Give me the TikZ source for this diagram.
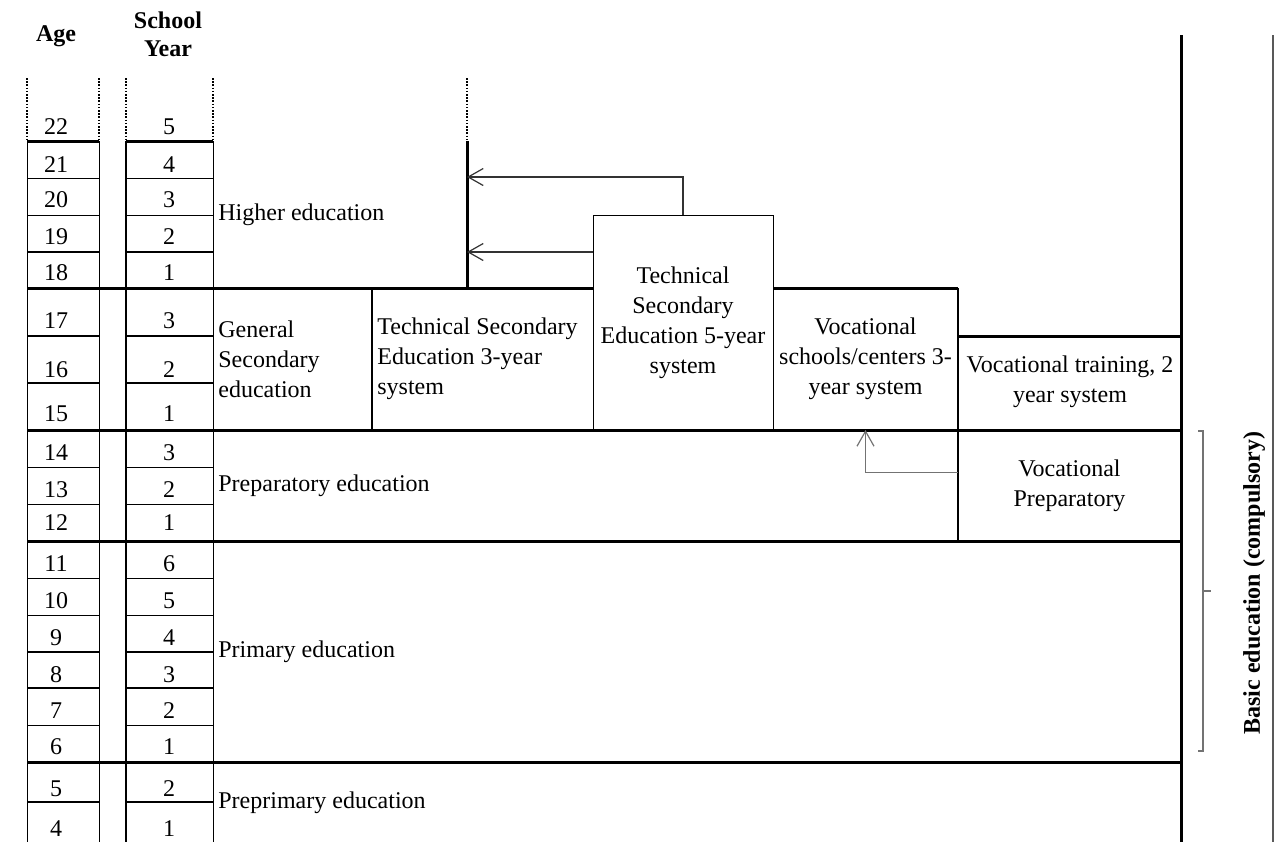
\documentclass[tikz,border=0pt]{standalone}
\usepackage{fontspec}
\setmainfont{Liberation Serif}
\usetikzlibrary{arrows.meta,positioning,calc}

\tikzset{
  tline/.style={line width=0.5pt},
  mline/.style={line width=1pt},
  bline/.style={line width=1.5pt},
  dotline/.style={line width=0.6pt, dash pattern=on 0.8pt off 0.8pt},
  numlbl/.style={font=\fontsize{12}{15}\selectfont, inner sep=0pt},
  headlbl/.style={font=\fontsize{12}{14}\selectfont\bfseries, inner sep=0pt},
  stagelbl/.style={font=\fontsize{12}{15}\selectfont, anchor=west, align=left, inner sep=0pt},
  boxlbl/.style={font=\fontsize{12}{15}\selectfont, align=center, inner sep=0pt, outer sep=0pt},
  flow/.style={-{Straight Barb[length=7.5pt, width=8.5pt]}, line width=0.6pt},
}

\begin{document}
\begin{tikzpicture}[x=0.5pt, y=-0.5pt]
  \useasboundingbox (0,0) rectangle (1274,842);

  % --- Header ---
  \node[headlbl] (hage) at (56,36) {Age};
  \node[headlbl, align=center] (hyear) at (168,34) {School\\Year};

  % --- Column frames ---
  \draw[dotline] (27,78) -- (27,141);
  \draw[dotline] (99,78) -- (99,141);
  \draw[dotline] (126,78) -- (126,141);
  \draw[dotline] (213,78) -- (213,141);
  \draw[dotline] (467,78) -- (467,141);
  \draw[tline] (27,141) -- (27,842);
  \draw[tline] (99,141) -- (99,842);
  \draw[mline] (126,141) -- (126,842);
  \draw[tline] (213,141) -- (213,842);
  \draw[bline] (1181,35) -- (1181,842);
  \draw[line width=0.6pt, black!65] (1273,35) -- (1273,842);

  % row lines (age and school year columns)
  \draw[bline] (27,141) -- (99,141) (126,141) -- (213,141);
  \draw[tline] (27,178) -- (99,178) (126,178) -- (213,178);
  \draw[tline] (27,215) -- (99,215) (126,215) -- (213,215);
  \draw[mline] (27,252) -- (99,252) (126,252) -- (213,252);
  \draw[mline] (27,336) -- (99,336) (126,336) -- (213,336);
  \draw[mline] (27,383) -- (99,383) (126,383) -- (213,383);
  \draw[tline] (27,467) -- (99,467) (126,467) -- (213,467);
  \draw[tline] (27,504) -- (99,504) (126,504) -- (213,504);
  \draw[tline] (27,578) -- (99,578) (126,578) -- (213,578);
  \draw[tline] (27,615) -- (99,615) (126,615) -- (213,615);
  \draw[mline] (27,652) -- (99,652) (126,652) -- (213,652);
  \draw[mline] (27,688) -- (99,688) (126,688) -- (213,688);
  \draw[tline] (27,725) -- (99,725) (126,725) -- (213,725);
  \draw[mline] (27,802) -- (99,802) (126,802) -- (213,802);

  % stage boundaries
  \draw[bline] (27,288) -- (593,288) (773,288) -- (958,288);
  \draw[bline] (958,336) -- (1181,336);
  \draw[bline] (27,430) -- (1181,430);
  \draw[bline] (27,541) -- (1181,541);
  \draw[bline] (27,762) -- (1181,762);
  \draw[bline] (467,141) -- (467,288);
  \draw[mline] (372,288) -- (372,430);
  \draw[mline] (958,288) -- (958,541);

  % --- Ages ---
  \node[numlbl] (a22) at (56,127) {22};
  \node[numlbl] (a21) at (56,165) {21};
  \node[numlbl] (a20) at (56,200) {20};
  \node[numlbl] (a19) at (56,237) {19};
  \node[numlbl] (a18) at (56,273) {18};
  \node[numlbl] (a17) at (56,321) {17};
  \node[numlbl] (a16) at (56,370) {16};
  \node[numlbl] (a15) at (56,414) {15};
  \node[numlbl] (a14) at (56,453) {14};
  \node[numlbl] (a13) at (56,490) {13};
  \node[numlbl] (a12) at (56,523) {12};
  \node[numlbl] (a11) at (56,564) {11};
  \node[numlbl] (a10) at (56,601) {10};
  \node[numlbl] (a9) at (56,638) {9};
  \node[numlbl] (a8) at (56,675) {8};
  \node[numlbl] (a7) at (56,711) {7};
  \node[numlbl] (a6) at (56,747) {6};
  \node[numlbl] (a5) at (56,789) {5};
  \node[numlbl] (a4) at (56,829) {4};

  % --- School years ---
  \node[numlbl] (y22) at (169,127) {5};
  \node[numlbl] (y21) at (169,165) {4};
  \node[numlbl] (y20) at (169,200) {3};
  \node[numlbl] (y19) at (169,237) {2};
  \node[numlbl] (y18) at (169,273) {1};
  \node[numlbl] (y17) at (169,321) {3};
  \node[numlbl] (y16) at (169,370) {2};
  \node[numlbl] (y15) at (169,414) {1};
  \node[numlbl] (y14) at (169,453) {3};
  \node[numlbl] (y13) at (169,490) {2};
  \node[numlbl] (y12) at (169,523) {1};
  \node[numlbl] (y11) at (169,564) {6};
  \node[numlbl] (y10) at (169,601) {5};
  \node[numlbl] (y9) at (169,638) {4};
  \node[numlbl] (y8) at (169,675) {3};
  \node[numlbl] (y7) at (169,711) {2};
  \node[numlbl] (y6) at (169,747) {1};
  \node[numlbl] (y5) at (169,789) {2};
  \node[numlbl] (y4) at (169,829) {1};

  % --- Stages ---
  \node[stagelbl] (higher) at (218,215) {Higher education};
  \node[stagelbl] (gensec) at (218,359) {General\\Secondary\\education};
  \node[stagelbl] (tech3) at (377,359) {Technical Secondary\\Education 3-year\\system};
  \node[boxlbl, draw, tline, minimum width=90pt, minimum height=107.5pt]
    (tech5) at (683,322.5) {Technical\\Secondary\\Education 5-year\\system};
  \node[boxlbl, minimum width=92.5pt, minimum height=71pt]
    (vocs) at (865.5,359) {Vocational\\schools/centers 3-\\year system};
  \node[boxlbl] (voct) at (1070,382) {Vocational training, 2\\year system};
  \node[stagelbl] (prep) at (218,486) {Preparatory education};
  \node[boxlbl, minimum width=111.5pt, minimum height=55.5pt]
    (vprep) at (1069.5,485.5) {Vocational\\Preparatory};
  \node[stagelbl] (primary) at (218,652) {Primary education};
  \node[stagelbl] (preprim) at (218,803) {Preprimary education};

  % Arrows into higher education
  \coordinate (hi1) at (467,177);
  \coordinate (hi2) at (467,252);
  \draw[flow, black!80] (tech5.north) |- (hi1);
  \draw[flow, black!80] (tech5.west |- hi2) -- (hi2);
  \draw[flow, black!55] ([yshift=6.5pt]vprep.west) -| (vocs.south);

  % --- Basic education brace ---
  \draw[line width=0.6pt, black!55] (1198,431) -- (1203,431) -- (1203,751) -- (1198,751);
  \draw[line width=0.6pt, black!55] (1203,591) -- (1211,591);
  \node[headlbl, rotate=90] (basic) at (1254,583) {Basic education (compulsory)};
\end{tikzpicture}
\end{document}
